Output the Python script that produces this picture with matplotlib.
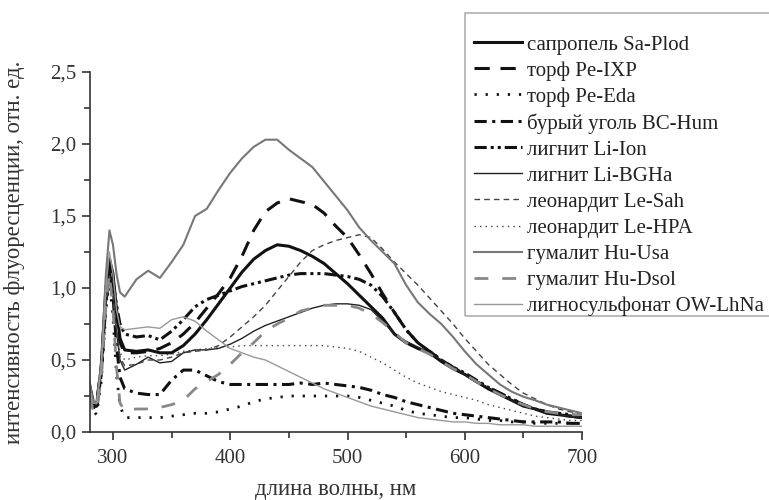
import matplotlib
matplotlib.use("Agg")
import matplotlib.pyplot as plt
from matplotlib.patches import Rectangle

plt.rcParams['font.family'] = ['Liberation Serif', 'DejaVu Serif']

# wavelength grid, nm
wl = [280, 283, 286, 290, 294, 297, 300, 303, 306, 310,
      320, 330, 340, 350, 360, 370, 380, 390, 400, 410,
      420, 430, 440, 450, 460, 470, 480, 490, 500, 510,
      520, 530, 540, 550, 560, 570, 580, 590, 600, 610,
      620, 630, 640, 650, 660, 670, 680, 690, 700]

sa_plod = [0.30, 0.20, 0.18, 0.45, 1.00, 1.20, 1.10, 0.85, 0.65, 0.57,
           0.56, 0.57, 0.55, 0.55, 0.60, 0.68, 0.78, 0.89, 1.00, 1.11,
           1.20, 1.26, 1.30, 1.29, 1.26, 1.22, 1.17, 1.10, 1.03, 0.95,
           0.87, 0.79, 0.68, 0.62, 0.58, 0.55, 0.49, 0.44, 0.40, 0.35,
           0.30, 0.26, 0.22, 0.18, 0.16, 0.13, 0.12, 0.11, 0.10]
pe_ixp = [0.32, 0.22, 0.20, 0.45, 0.95, 1.18, 1.05, 0.80, 0.62, 0.55,
          0.55, 0.56, 0.58, 0.62, 0.68, 0.76, 0.86, 0.96, 1.07, 1.22,
          1.40, 1.53, 1.59, 1.62, 1.60, 1.58, 1.52, 1.43, 1.35, 1.23,
          1.10, 0.96, 0.83, 0.71, 0.62, 0.56, 0.50, 0.45, 0.40, 0.35,
          0.31, 0.27, 0.23, 0.19, 0.16, 0.14, 0.12, 0.11, 0.10]
pe_eda = [0.28, 0.15, 0.12, 0.35, 0.85, 1.05, 0.80, 0.40, 0.18, 0.10,
          0.10, 0.10, 0.10, 0.11, 0.12, 0.13, 0.13, 0.14, 0.16, 0.18,
          0.21, 0.23, 0.24, 0.25, 0.25, 0.25, 0.25, 0.25, 0.25, 0.24,
          0.22, 0.20, 0.18, 0.15, 0.13, 0.12, 0.11, 0.10, 0.10, 0.09,
          0.08, 0.08, 0.07, 0.07, 0.06, 0.06, 0.06, 0.06, 0.06]
bc_hum = [0.30, 0.18, 0.16, 0.40, 0.90, 1.10, 0.95, 0.60, 0.38, 0.30,
          0.27, 0.26, 0.26, 0.36, 0.43, 0.43, 0.39, 0.35, 0.33, 0.33,
          0.33, 0.33, 0.33, 0.33, 0.34, 0.33, 0.34, 0.33, 0.32, 0.31,
          0.29, 0.26, 0.24, 0.21, 0.19, 0.17, 0.15, 0.13, 0.12, 0.11,
          0.10, 0.09, 0.08, 0.07, 0.07, 0.07, 0.07, 0.06, 0.06]
li_ion = [0.33, 0.20, 0.18, 0.42, 0.95, 1.15, 1.05, 0.88, 0.75, 0.68,
          0.66, 0.67, 0.64, 0.70, 0.78, 0.87, 0.92, 0.95, 0.98, 1.01,
          1.03, 1.05, 1.07, 1.09, 1.10, 1.10, 1.10, 1.09, 1.08, 1.06,
          1.02, 0.94, 0.83, 0.71, 0.62, 0.56, 0.50, 0.45, 0.41, 0.36,
          0.31, 0.27, 0.23, 0.19, 0.16, 0.14, 0.13, 0.12, 0.11]
li_bgha = [0.28, 0.20, 0.20, 0.42, 0.90, 1.05, 0.95, 0.70, 0.50, 0.43,
           0.47, 0.52, 0.48, 0.49, 0.55, 0.57, 0.57, 0.58, 0.61, 0.65,
           0.70, 0.74, 0.77, 0.80, 0.83, 0.86, 0.88, 0.89, 0.89, 0.88,
           0.85, 0.77, 0.68, 0.63, 0.59, 0.55, 0.50, 0.45, 0.40, 0.35,
           0.31, 0.26, 0.22, 0.19, 0.16, 0.14, 0.12, 0.11, 0.10]
le_sah = [0.30, 0.20, 0.19, 0.42, 0.90, 1.08, 0.95, 0.70, 0.52, 0.46,
          0.47, 0.50, 0.50, 0.52, 0.55, 0.56, 0.57, 0.60, 0.66, 0.73,
          0.80, 0.88, 0.98, 1.08, 1.18, 1.26, 1.30, 1.33, 1.35, 1.37,
          1.35, 1.27, 1.18, 1.10, 1.02, 0.93, 0.84, 0.75, 0.65, 0.56,
          0.47, 0.40, 0.33, 0.27, 0.23, 0.19, 0.16, 0.14, 0.12]
le_hpa = [0.30, 0.21, 0.19, 0.42, 0.90, 1.05, 0.95, 0.72, 0.55, 0.50,
          0.52, 0.53, 0.53, 0.54, 0.56, 0.57, 0.58, 0.59, 0.59, 0.60,
          0.60, 0.60, 0.60, 0.60, 0.60, 0.60, 0.60, 0.59, 0.58, 0.56,
          0.52, 0.48, 0.43, 0.38, 0.34, 0.31, 0.28, 0.26, 0.24, 0.22,
          0.19, 0.17, 0.15, 0.13, 0.11, 0.10, 0.09, 0.08, 0.08]
hu_usa = [0.35, 0.22, 0.20, 0.48, 1.10, 1.40, 1.30, 1.10, 0.97, 0.94,
          1.06, 1.12, 1.07, 1.18, 1.30, 1.50, 1.55, 1.68, 1.80, 1.90,
          1.98, 2.03, 2.03, 1.96, 1.90, 1.84, 1.74, 1.64, 1.54, 1.42,
          1.33, 1.25, 1.17, 1.02, 0.90, 0.82, 0.75, 0.66, 0.56, 0.47,
          0.40, 0.33, 0.28, 0.245, 0.22, 0.19, 0.17, 0.15, 0.13]
hu_dsol = [0.25, 0.15, 0.14, 0.38, 0.90, 1.10, 0.85, 0.45, 0.20, 0.15,
           0.16, 0.16, 0.17, 0.19, 0.22, 0.30, 0.35, 0.40, 0.47, 0.55,
           0.62, 0.70, 0.75, 0.79, 0.84, 0.86, 0.88, 0.88, 0.88, 0.86,
           0.82, 0.76, 0.69, 0.62, 0.58, 0.54, 0.49, 0.44, 0.40, 0.35,
           0.30, 0.26, 0.22, 0.19, 0.16, 0.14, 0.13, 0.12, 0.12]
ow_lhna = [0.30, 0.20, 0.20, 0.45, 1.00, 1.25, 1.10, 0.85, 0.73, 0.71,
           0.72, 0.73, 0.72, 0.78, 0.80, 0.77, 0.70, 0.64, 0.58, 0.55,
           0.52, 0.50, 0.46, 0.42, 0.38, 0.34, 0.30, 0.27, 0.24, 0.21,
           0.18, 0.16, 0.14, 0.12, 0.10, 0.09, 0.08, 0.07, 0.07, 0.06,
           0.06, 0.05, 0.05, 0.05, 0.04, 0.04, 0.04, 0.04, 0.04]

labels = ['сапропель Sa-Plod', 'торф Pe-IXP', 'торф Pe-Eda',
          'бурый уголь BC-Hum', 'лигнит Li-Ion', 'лигнит Li-BGHa',
          'леонардит Le-Sah', 'леонардит Le-HPA', 'гумалит Hu-Usa',
          'гумалит Hu-Dsol', 'лигносульфонат OW-LhNa']
series = [sa_plod, pe_ixp, pe_eda, bc_hum, li_ion, li_bgha,
          le_sah, le_hpa, hu_usa, hu_dsol, ow_lhna]

# (color, linewidth, linestyle)
styles = [('#111111', 2.2, '-'),
          ('#111111', 2.2, (0, (5, 3.5))),
          ('#111111', 2.0, (0, (0.8, 3.2))),
          ('#111111', 2.2, (0, (4, 1.8, 1, 1.8))),
          ('#111111', 2.2, (0, (4, 1.3, 1, 1.3, 1, 1.3))),
          ('#222222', 1.0, '-'),
          ('#444444', 1.0, (0, (4, 3))),
          ('#444444', 1.0, (0, (1, 3))),
          ('#777777', 1.5, '-'),
          ('#888888', 2.0, (0, (5, 5))),
          ('#999999', 1.0, '-')]

fig = plt.figure(figsize=(7.69, 5.0), dpi=100)
ax = fig.add_axes([0.1164, 0.136, 0.6405, 0.72])

for y, lab, (c, lw, ls) in zip(series, labels, styles):
    ax.plot(wl, y, color=c, lw=lw, ls=ls, label=lab)

ax.set_xlim(280, 700)
ax.set_ylim(0, 2.5)
ax.set_xticks([300, 400, 500, 600, 700])
ax.set_xticks([350, 450, 550, 650], minor=True)
ax.set_yticks([0, 0.5, 1.0, 1.5, 2.0, 2.5])
ax.set_yticks([0.25, 0.75, 1.25, 1.75, 2.25], minor=True)
ax.set_yticklabels(['0,0', '0,5', '1,0', '1,5', '2,0', '2,5'])
ax.spines['top'].set_visible(False)
ax.spines['right'].set_visible(False)
for s in ['left', 'bottom']:
    ax.spines[s].set_color('#333333')
    ax.spines[s].set_linewidth(1.2)
ax.tick_params(which='major', direction='out', length=6, width=1.2,
               colors='#333333', labelsize=15, labelcolor='#333333')
ax.tick_params(which='minor', direction='out', length=4, width=1.2,
               colors='#333333')
ax.tick_params(axis='x', pad=6)

ax.set_xlabel('длина волны, нм', fontsize=16.4, color='#333333', labelpad=8)
ax.set_ylabel('интенсивность флуоресценции, отн. ед.', fontsize=16.4,
              color='#333333', labelpad=18)

# legend frame drawn separately so it can run off the right edge
fig.patches.append(Rectangle((465 / 769, 1 - 316 / 500), 320 / 769, 303 / 500,
                             transform=fig.transFigure, fill=False,
                             edgecolor='#b0b0b0', lw=1.2))
fig.legend(loc='upper left', bbox_to_anchor=(474 / 769, 1 - 35 / 500),
           frameon=False, fontsize=15, handlelength=2.3, handletextpad=0.25,
           labelspacing=0.31, borderpad=0, borderaxespad=0,
           labelcolor='#222222')

fig.savefig('out.png', dpi=100)
